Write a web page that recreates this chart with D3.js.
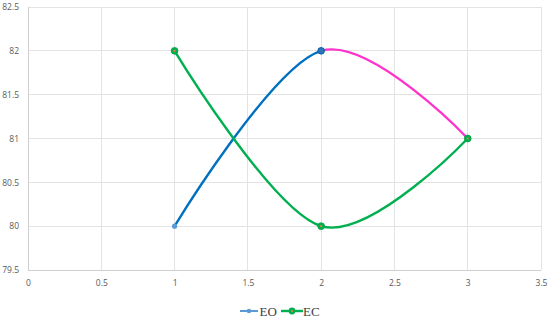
<!DOCTYPE html>
<html><head><meta charset="utf-8">
<script src="https://cdn.jsdelivr.net/npm/d3@7"></script>
<style>body{margin:0;background:#fff}svg{display:block}</style>
</head><body>
<svg id="c" width="550" height="318"></svg>
<script>
const xTicks = [0, 0.5, 1, 1.5, 2, 2.5, 3, 3.5];
const yTicks = [79.5, 80, 80.5, 81, 81.5, 82, 82.5];
const xValues = [1, 2, 3];
const eoValues = [80, 82, 81];
const ecValues = [82, 80, 81];
const seriesNames = ["EO", "EC"];

const svg = d3.select("#c");
const x = d3.scaleLinear().domain([0, 3.5]).range([28, 541]);
const y = d3.scaleLinear().domain([79.5, 82.5]).range([270, 7]);

// gridlines
svg.append("g").selectAll("line").data(yTicks).join("line")
  .attr("x1", x(0)).attr("x2", x(3.5)).attr("y1", d => y(d)).attr("y2", d => y(d))
  .attr("stroke", d => d === 79.5 ? "#cfcfcf" : "#e3e3e3").attr("stroke-width", 1).attr("shape-rendering","crispEdges");
svg.append("g").selectAll("line").data(xTicks).join("line")
  .attr("y1", y(79.5)).attr("y2", y(82.5)).attr("x1", d => x(d)).attr("x2", d => x(d))
  .attr("stroke", d => d === 0 ? "#cfcfcf" : "#e3e3e3").attr("stroke-width", 1).attr("shape-rendering","crispEdges");

// axes labels
const yAxis = d3.axisLeft(y).tickValues(yTicks).tickSize(0).tickPadding(0).tickFormat(d3.format("~g"));
const gy = svg.append("g").attr("transform", `translate(${x(0)-9},0)`).call(yAxis);
gy.select(".domain").remove();
gy.selectAll("text").attr("font-family","Open Sans, sans-serif").attr("font-size", 8.5).attr("fill", "#595959");

const xAxis = d3.axisBottom(x).tickValues(xTicks).tickSize(0).tickPadding(0).tickFormat(d3.format("~g"));
const gx = svg.append("g").attr("transform", `translate(0,${y(79.5)+10})`).call(xAxis);
gx.select(".domain").remove();
gx.selectAll("text").attr("font-family","Open Sans, sans-serif").attr("font-size", 8.5).attr("fill", "#595959");

const line = d3.line().x(d => x(d[0])).y(d => y(d[1])).curve(d3.curveCardinal.tension(0));
const eo = xValues.map((v, i) => [v, eoValues[i]]);
const ec = xValues.map((v, i) => [v, ecValues[i]]);

const defs = svg.append("defs");
defs.append("clipPath").attr("id", "left").append("rect")
  .attr("x", 0).attr("y", 0).attr("width", x(2)).attr("height", 318);
defs.append("clipPath").attr("id", "right").append("rect")
  .attr("x", x(2)).attr("y", 0).attr("width", 550 - x(2)).attr("height", 318);

svg.append("path").attr("d", line(eo)).attr("fill","none").attr("stroke","#FF33CC")
  .attr("stroke-width", 2.4).attr("clip-path","url(#right)");
svg.append("path").attr("d", line(eo)).attr("fill","none").attr("stroke","#0070C0")
  .attr("stroke-width", 2.4).attr("clip-path","url(#left)");
svg.append("path").attr("d", line(ec)).attr("fill","none").attr("stroke","#00B050")
  .attr("stroke-width", 2.4);

// EO markers
svg.append("circle").attr("cx", x(1)).attr("cy", y(80)).attr("r", 2.6).attr("fill", "#5B9BD5");
svg.append("circle").attr("cx", x(2)).attr("cy", y(82)).attr("r", 3.3).attr("fill", "#2E75B6").attr("stroke","#0060A8").attr("stroke-width",1);
// EC markers
ec.forEach(d => {
  svg.append("circle").attr("cx", x(d[0])).attr("cy", y(d[1])).attr("r", 3.4).attr("fill", "#00B050").attr("stroke","#00A048").attr("stroke-width",0.8);
  svg.append("circle").attr("cx", x(d[0])).attr("cy", y(d[1])).attr("r", 1.1).attr("fill", "#ED7D31");
});

// legend
const lg = svg.append("g");
lg.append("line").attr("x1", 240).attr("x2", 258).attr("y1", 311).attr("y2", 311).attr("stroke", "#5B9BD5").attr("stroke-width", 2);
lg.append("circle").attr("cx", 249).attr("cy", 311).attr("r", 2.3).attr("fill", "#5B9BD5");
lg.append("text").attr("x", 259.5).attr("y", 315.5).text(seriesNames[0])
  .attr("font-family","Liberation Serif, serif").attr("font-size", 13).attr("fill","#404040");
lg.append("line").attr("x1", 281).attr("x2", 303).attr("y1", 311).attr("y2", 311).attr("stroke", "#00B050").attr("stroke-width", 2.4);
lg.append("circle").attr("cx", 292).attr("cy", 311).attr("r", 3.4).attr("fill", "#00B050");
lg.append("circle").attr("cx", 292).attr("cy", 311).attr("r", 1.1).attr("fill", "#ED7D31");
lg.append("text").attr("x", 303).attr("y", 315.5).text(seriesNames[1])
  .attr("font-family","Liberation Serif, serif").attr("font-size", 13).attr("fill","#404040");
</script>
</body></html>
